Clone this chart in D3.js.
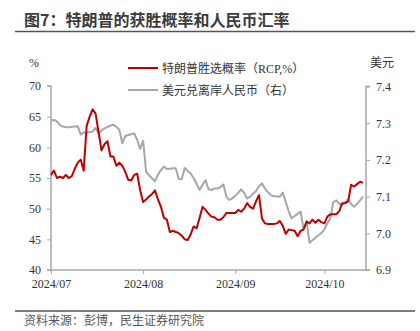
<!DOCTYPE html>
<html>
<head>
<meta charset="utf-8">
<script src="https://cdn.jsdelivr.net/npm/d3@7"></script>
<style>
  html, body { margin: 0; padding: 0; background: #fff; }
  svg { display: block; }
</style>
</head>
<body>
<svg id="chart" width="420" height="331"></svg>
<script>
const title = "图7：特朗普的获胜概率和人民币汇率";
const source = "资料来源：彭博，民生证券研究院";
const seriesNames = ["特朗普胜选概率（RCP,%）", "美元兑离岸人民币（右）"];
const leftUnit = "%";
const rightUnit = "美元";

const dates = [
  "2024-07-01","2024-07-02","2024-07-03","2024-07-04","2024-07-05","2024-07-06","2024-07-07","2024-07-08","2024-07-09","2024-07-10",
  "2024-07-11","2024-07-12","2024-07-13","2024-07-14","2024-07-15","2024-07-16","2024-07-17","2024-07-18","2024-07-19","2024-07-20",
  "2024-07-21","2024-07-22","2024-07-23","2024-07-24","2024-07-25","2024-07-26","2024-07-27","2024-07-28","2024-07-29","2024-07-30",
  "2024-07-31","2024-08-01","2024-08-02","2024-08-03","2024-08-04","2024-08-05","2024-08-06","2024-08-07","2024-08-08","2024-08-09",
  "2024-08-10","2024-08-11","2024-08-12","2024-08-13","2024-08-14","2024-08-15","2024-08-16","2024-08-17","2024-08-18","2024-08-19",
  "2024-08-20","2024-08-21","2024-08-22","2024-08-23","2024-08-24","2024-08-25","2024-08-26","2024-08-27","2024-08-28","2024-08-29",
  "2024-08-30","2024-08-31","2024-09-01","2024-09-02","2024-09-03","2024-09-04","2024-09-05","2024-09-06","2024-09-07","2024-09-08",
  "2024-09-09","2024-09-10","2024-09-11","2024-09-12","2024-09-13","2024-09-14","2024-09-15","2024-09-16","2024-09-17","2024-09-18",
  "2024-09-19","2024-09-20","2024-09-21","2024-09-22","2024-09-23","2024-09-24","2024-09-25","2024-09-26","2024-09-27","2024-09-28",
  "2024-09-29","2024-09-30","2024-10-01","2024-10-02","2024-10-03","2024-10-04","2024-10-05","2024-10-06","2024-10-07","2024-10-08",
  "2024-10-09","2024-10-10","2024-10-11","2024-10-12","2024-10-13","2024-10-14"
];

const trumpProb = [
  55.5, 56.2, 55.0, 55.2, 55.0, 55.5, 55.0, 55.3, 56.5, 57.5, 58.0,
  56.2, 63.5, 65.0, 66.2, 65.5, 62.5, 59.5, 60.5, 61.0, 58.5,
  58.5, 57.0, 57.5, 57.0, 56.0, 54.7, 54.6, 55.5, 55.7, 53.0,
  51.1, 51.5, 52.0, 52.4, 53.0, 51.5, 50.3, 48.5, 48.2, 46.2,
  46.4, 46.2, 46.0, 45.6, 45.0, 44.9, 45.8, 47.1, 46.8, 48.5,
  50.3, 49.8, 49.2, 48.7, 48.6, 48.2, 48.2, 48.6, 49.3, 49.3,
  49.3, 49.3, 49.8, 49.5, 50.0, 50.9, 50.3, 50.0, 51.2, 52.2,
  48.4, 47.6, 47.5, 47.5, 47.5, 47.6, 48.0, 47.2, 45.9, 46.6,
  46.5, 46.4, 45.5, 46.4, 46.6, 47.9, 47.6, 48.2, 47.7, 48.2,
  47.8, 47.6, 48.7, 49.1, 49.1, 49.1, 49.6, 50.9, 50.9, 51.2,
  53.9, 53.6, 54.0, 54.4, 54.2
];

const usdCnh = [
  7.308, 7.309, 7.305, 7.295, 7.291, 7.289, 7.289, 7.290, 7.291, 7.292, 7.269,
  7.275, 7.274, 7.276, 7.277, 7.287, 7.272, 7.280, 7.286, 7.290, 7.293,
  7.296, 7.290, 7.282, 7.245, 7.265, 7.268, 7.270, 7.272, 7.255, 7.230,
  7.252, 7.168, 7.158, 7.150, 7.142, 7.160, 7.172, 7.182, 7.175, 7.176,
  7.177, 7.177, 7.148, 7.147, 7.178, 7.170, 7.163, 7.150, 7.135, 7.118,
  7.132, 7.145, 7.120, 7.118, 7.122, 7.122, 7.126, 7.133, 7.100, 7.091,
  7.095, 7.102, 7.110, 7.120, 7.110, 7.095, 7.100, 7.108, 7.115, 7.128,
  7.136, 7.122, 7.112, 7.104, 7.101, 7.100, 7.100, 7.111, 7.085, 7.060,
  7.041, 7.047, 7.053, 7.059, 7.011, 7.032, 6.974, 6.981, 6.988, 6.995,
  7.001, 7.010, 7.028, 7.040, 7.085, 7.090, 7.080, 7.078, 7.085, 7.093,
  7.080, 7.072, 7.080, 7.090, 7.100
];

const leftTicks = [40, 45, 50, 55, 60, 65, 70];
const rightTicks = [6.9, 7.0, 7.1, 7.2, 7.3, 7.4];
const xTickDates = ["2024-07-01", "2024-08-01", "2024-09-01", "2024-10-01"];
const xDomain = ["2024-07-01", "2024-10-15"];

const parse = d3.timeParse("%Y-%m-%d");
const RED = "#C00000";
const GRAY = "#A6A6A6";
const AXIS = "#A6A6A6";
const TEXT = "#333333";
const SERIF = "'Liberation Serif', 'Times New Roman', serif";
const CJK = "'Liberation Serif', 'Noto Sans CJK SC', sans-serif";

const svg = d3.select("#chart");
const L = 51, R = 366, T = 86, B = 270;

const x = d3.scaleTime().domain(xDomain.map(parse)).range([L, R]);
const yL = d3.scaleLinear().domain([40, 70]).range([B, T]);
const yR = d3.scaleLinear().domain([6.9, 7.4]).range([B, T + 0.5]);

// Title
svg.append("text").attr("x", 24).attr("y", 26)
  .attr("font-family", "'Noto Sans CJK SC', sans-serif")
  .attr("font-weight", "bold").attr("font-size", 16).attr("fill", "#3b3b3b")
  .text(title);
svg.append("line").attr("x1", 15).attr("x2", 415).attr("y1", 31.5).attr("y2", 31.5)
  .attr("stroke", "#555").attr("stroke-width", 1.5);

// Units
svg.append("text").attr("x", 34).attr("y", 67).attr("text-anchor", "middle")
  .attr("font-family", SERIF).attr("font-size", 12).attr("fill", TEXT).text(leftUnit);
svg.append("text").attr("x", 382).attr("y", 67).attr("text-anchor", "middle")
  .attr("font-family", "'Noto Sans CJK SC', sans-serif").attr("font-size", 12).attr("fill", TEXT).text(rightUnit);

// Axes
const axisL = d3.axisLeft(yL).tickValues(leftTicks).tickSize(4).tickPadding(6).tickFormat(d3.format("d"));
const axisR = d3.axisRight(yR).tickValues(rightTicks).tickSize(4).tickPadding(6).tickFormat(d3.format(".1f"));
const axisB = d3.axisBottom(x).tickValues(xTickDates.map(parse)).tickSize(4).tickPadding(5).tickFormat(d3.timeFormat("%Y/%m"));

function styleAxis(g) {
  g.selectAll("path").attr("stroke", AXIS).attr("stroke-width", 1.5);
  g.selectAll(".tick line").attr("stroke", AXIS).attr("stroke-width", 1);
  g.selectAll("text").attr("font-family", SERIF).attr("font-size", 12).attr("fill", TEXT);
}

svg.append("g").attr("transform", `translate(${L},0)`).call(axisL).call(g => g.select(".domain").attr("d", `M-4,${T}H0V${B}H-4`)).call(styleAxis);
svg.append("g").attr("transform", `translate(${R},0)`).call(axisR).call(g => g.select(".domain").attr("d", `M4,${T + 0.5}H0V${B}H4`)).call(styleAxis);
svg.append("g").attr("transform", `translate(0,${B})`).call(axisB).call(g => g.select(".domain").attr("d", `M${L},0H${R}`)).call(styleAxis);

// Lines
const pts = dates.map(parse);
const lineL = d3.line().x((d, i) => x(pts[i])).y(d => yL(d));
const lineR = d3.line().x((d, i) => x(pts[i])).y(d => yR(d));

svg.append("path").datum(usdCnh).attr("d", lineR)
  .attr("fill", "none").attr("stroke", GRAY).attr("stroke-width", 2).attr("stroke-linejoin", "round");
svg.append("path").datum(trumpProb).attr("d", lineL)
  .attr("fill", "none").attr("stroke", RED).attr("stroke-width", 2).attr("stroke-linejoin", "round");

// Legend
const legend = [{ name: seriesNames[0], color: RED, y: 68 }, { name: seriesNames[1], color: GRAY, y: 90 }];
legend.forEach(l => {
  svg.append("line").attr("x1", 128).attr("x2", 158).attr("y1", l.y).attr("y2", l.y)
    .attr("stroke", l.color).attr("stroke-width", 2);
  svg.append("text").attr("x", 162).attr("y", l.y + 4.5)
    .attr("font-family", CJK).attr("font-size", 12).attr("fill", TEXT).text(l.name);
});

// Footer
svg.append("line").attr("x1", 15).attr("x2", 415).attr("y1", 311).attr("y2", 311)
  .attr("stroke", "#555").attr("stroke-width", 1.5);
svg.append("text").attr("x", 24).attr("y", 325)
  .attr("font-family", "'Noto Sans CJK SC', sans-serif").attr("font-size", 12).attr("fill", "#555")
  .text(source);
</script>
</body>
</html>
